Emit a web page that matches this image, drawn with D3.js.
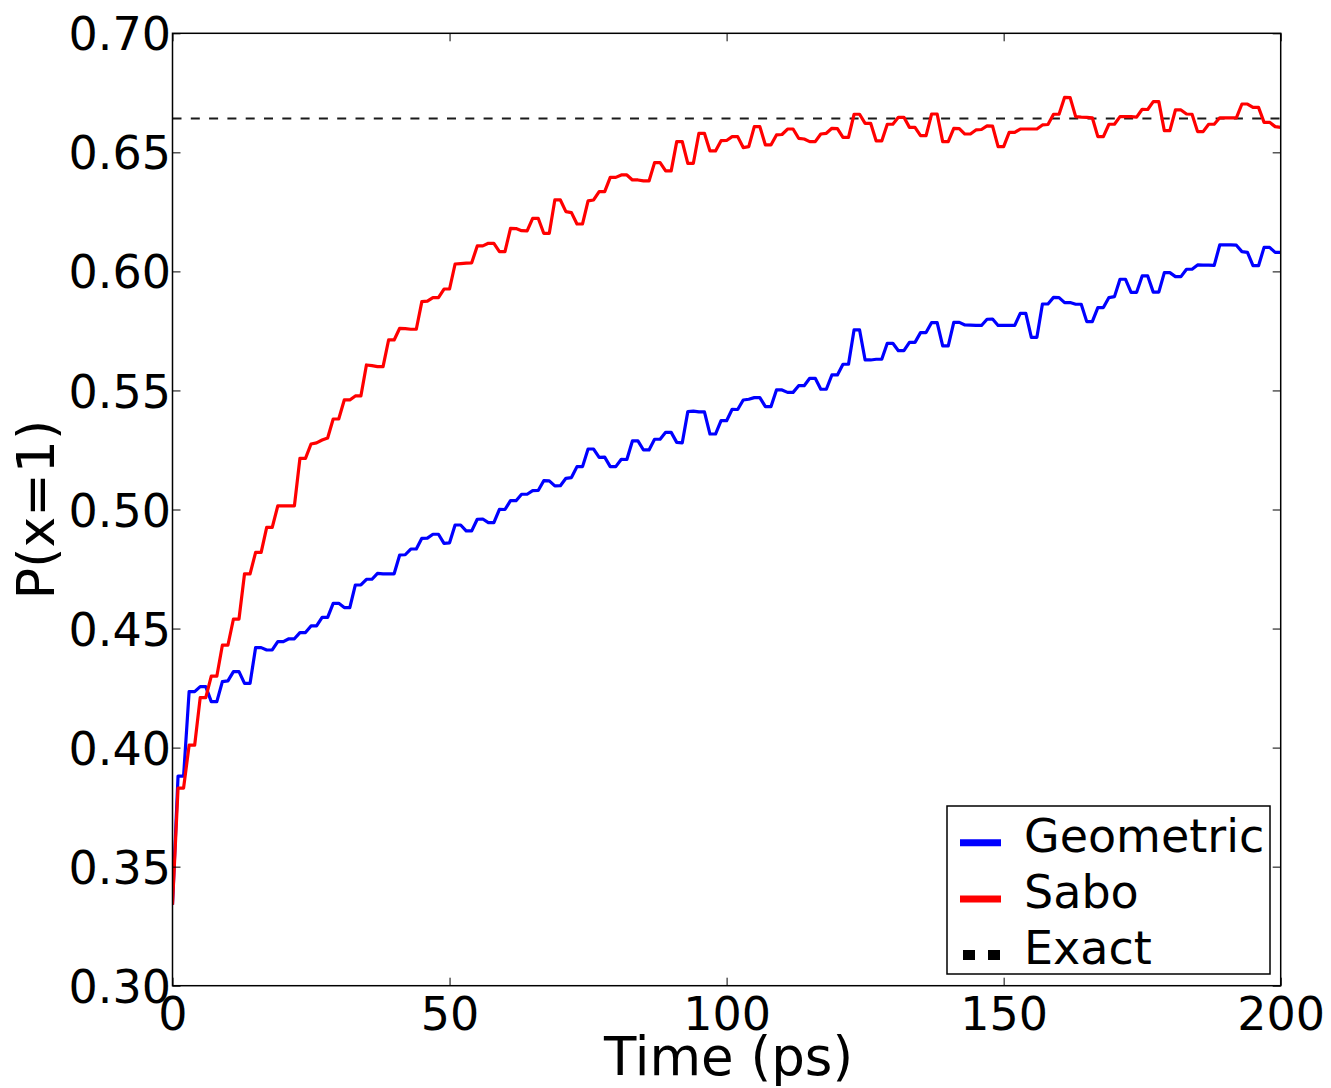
<!DOCTYPE html>
<html>
<head>
<meta charset="utf-8">
<script src="https://cdn.jsdelivr.net/npm/d3@7"></script>
<style>
  html, body { margin: 0; padding: 0; background: #fff; }
  svg { display: block; }
  text { font-family: "DejaVu Sans", sans-serif; fill: #000; }
</style>
</head>
<body>
<svg id="chart" width="1331" height="1088"></svg>
<script>
// ---- data (time in ps, one sample per ps) ----
const timeStart = 0;
const timeStep = 1;
const sabo = [
0.334,0.383,0.383,0.401,0.401,0.421,0.421,0.430,0.430,0.443,
0.443,0.454,0.454,0.473,0.473,0.482,0.482,0.4925,0.4925,0.5015,
0.5015,0.5015,0.5015,0.5215,0.5215,0.5275,0.528,0.5292,0.530,0.538,
0.538,0.546,0.546,0.5477,0.5477,0.5607,0.5604,0.560,0.560,0.5712,
0.5712,0.5761,0.576,0.5757,0.5757,0.5873,0.5875,0.589,0.589,0.5926,
0.5926,0.6031,0.6033,0.6035,0.6036,0.6107,0.6107,0.6118,0.6118,0.6083,
0.6083,0.6181,0.618,0.6171,0.617,0.6223,0.6223,0.616,0.616,0.630,
0.630,0.6251,0.6247,0.6199,0.620,0.6296,0.630,0.6335,0.6335,0.6395,
0.6395,0.6405,0.6405,0.6384,0.6384,0.638,0.638,0.6457,0.6457,0.6422,
0.6422,0.6545,0.6545,0.6454,0.6454,0.658,0.658,0.6506,0.6506,0.6549,
0.655,0.6566,0.6566,0.652,0.6524,0.6608,0.6608,0.6531,0.6531,0.6573,
0.6575,0.6598,0.6598,0.6559,0.6556,0.6545,0.6545,0.6577,0.658,0.6601,
0.660,0.6563,0.6563,0.666,0.666,0.6622,0.6622,0.6548,0.6548,0.6618,
0.6618,0.6647,0.6647,0.6605,0.6605,0.657,0.657,0.6661,0.6661,0.6545,
0.6545,0.6601,0.660,0.6577,0.6577,0.6594,0.6596,0.6611,0.661,0.6524,
0.6524,0.6584,0.6584,0.6598,0.6598,0.6598,0.6598,0.6615,0.6617,0.666,
0.666,0.6731,0.673,0.665,0.6648,0.6647,0.6645,0.6566,0.6566,0.6618,
0.6618,0.665,0.665,0.665,0.6648,0.6681,0.668,0.6713,0.6713,0.6591,
0.6591,0.6678,0.6678,0.6661,0.666,0.6587,0.6587,0.6618,0.6618,0.6645,
0.6645,0.6645,0.6645,0.6703,0.6703,0.6689,0.6689,0.6626,0.6626,0.6608,
0.6605
];
const geometric = [
0.334,0.388,0.388,0.4235,0.4235,0.4256,0.4256,0.4193,0.4193,0.4277,
0.428,0.4319,0.4319,0.427,0.427,0.442,0.442,0.441,0.441,0.4445,
0.4445,0.4457,0.4457,0.4483,0.4483,0.4511,0.4511,0.4547,0.4547,0.4606,
0.4606,0.4588,0.4588,0.4683,0.4683,0.4707,0.4707,0.4732,0.473,0.473,
0.473,0.4809,0.481,0.4834,0.4834,0.4879,0.488,0.4896,0.4896,0.4858,
0.486,0.4935,0.4935,0.491,0.491,0.4959,0.496,0.4945,0.4945,0.5001,
0.500,0.5037,0.5037,0.5064,0.5064,0.5079,0.508,0.5121,0.512,0.5099,
0.510,0.5131,0.5134,0.518,0.518,0.5254,0.5254,0.5219,0.522,0.518,
0.518,0.5211,0.521,0.5288,0.5288,0.525,0.525,0.5295,0.5295,0.5324,
0.5324,0.5282,0.528,0.5411,0.5413,0.541,0.541,0.5317,0.5317,0.5373,
0.5373,0.5421,0.542,0.546,0.5463,0.547,0.547,0.5432,0.5432,0.5502,
0.5502,0.5492,0.5492,0.552,0.552,0.5551,0.5551,0.5505,0.5505,0.5565,
0.5565,0.561,0.561,0.5754,0.5754,0.5628,0.5628,0.5631,0.5631,0.5698,
0.5698,0.5667,0.5667,0.5702,0.5702,0.5743,0.5743,0.5785,0.5785,0.5687,
0.5687,0.5786,0.5786,0.5775,0.5774,0.5773,0.5773,0.5799,0.58,0.5773,
0.5773,0.5773,0.5773,0.5824,0.5824,0.5723,0.5723,0.5863,0.5863,0.5891,
0.589,0.5869,0.5869,0.5862,0.5862,0.5789,0.5789,0.5848,0.5848,0.589,
0.5894,0.5967,0.5967,0.5912,0.5912,0.5981,0.5981,0.5913,0.5913,0.5995,
0.5995,0.5978,0.5978,0.6009,0.6009,0.6027,0.6026,0.6026,0.6025,0.6111,
0.6111,0.6111,0.611,0.6083,0.608,0.6024,0.6024,0.6101,0.6101,0.608,
0.608
];
const exactValue = 0.6642;
const xTicks = [0, 50, 100, 150, 200];
const yTicks = [0.30, 0.35, 0.40, 0.45, 0.50, 0.55, 0.60, 0.65, 0.70];
const seriesNames = ["Geometric", "Sabo", "Exact"];
const seriesColors = ["#0000ff", "#ff0000", "#000000"];

// ---- layout ----
const margin = { left: 172.5, top: 33.3, right: 1331 - 1280.7, bottom: 1088 - 985.7 };
const W = 1331 - margin.left - margin.right;
const H = 1088 - margin.top - margin.bottom;

const svg = d3.select("#chart");
const g = svg.append("g").attr("transform", `translate(${margin.left},${margin.top})`);

const x = d3.scaleLinear().domain([0, 200]).range([0, W]);
const y = d3.scaleLinear().domain([0.30, 0.70]).range([H, 0]);

const toPts = arr => arr.map((v, i) => ({ t: timeStart + i * timeStep, v }));
const line = d3.line().x(d => x(d.t)).y(d => y(d.v));

const clipId = "plotclip";
g.append("clipPath").attr("id", clipId).append("rect").attr("width", W).attr("height", H);

const plot = g.append("g").attr("clip-path", `url(#${clipId})`);

// Exact dashed line
plot.append("line")
  .attr("x1", x(0)).attr("x2", x(200))
  .attr("y1", y(exactValue)).attr("y2", y(exactValue))
  .attr("stroke", "#1a1a1a").attr("stroke-width", 2)
  .attr("stroke-dasharray", "9,9.3");

plot.append("path").datum(toPts(geometric))
  .attr("d", line).attr("fill", "none")
  .attr("stroke", seriesColors[0]).attr("stroke-width", 3.2)
  .attr("stroke-linejoin", "round");

plot.append("path").datum(toPts(sabo))
  .attr("d", line).attr("fill", "none")
  .attr("stroke", seriesColors[1]).attr("stroke-width", 3.2)
  .attr("stroke-linejoin", "round");

// ---- axes ----
const fs = 46;
const yAxis = d3.axisLeft(y).tickValues(yTicks).tickFormat(d3.format(".2f"))
  .tickSizeInner(-8).tickSizeOuter(0).tickPadding(1.5);
const yAx = g.append("g").call(yAxis);
yAx.select(".domain").remove();
yAx.selectAll("text").style("font-size", fs + "px").attr("dy", "0.36em");
yAx.selectAll("line").attr("stroke", "#000").attr("stroke-width", 1);

const yAxisR = d3.axisRight(y).tickValues(yTicks).tickFormat("")
  .tickSizeInner(-8).tickSizeOuter(0);
const yAxR = g.append("g").attr("transform", `translate(${W},0)`).call(yAxisR);
yAxR.select(".domain").remove();
yAxR.selectAll("line").attr("stroke", "#000").attr("stroke-width", 1);

const xAxis = d3.axisBottom(x).tickValues(xTicks).tickFormat(d3.format("d"))
  .tickSizeInner(-8).tickSizeOuter(0).tickPadding(11.5);
const xAx = g.append("g").attr("transform", `translate(0,${H})`).call(xAxis);
xAx.select(".domain").remove();
xAx.selectAll("text").style("font-size", fs + "px");
xAx.selectAll("line").attr("stroke", "#000").attr("stroke-width", 1);

const xAxisT = d3.axisTop(x).tickValues(xTicks).tickFormat("")
  .tickSizeInner(-8).tickSizeOuter(0);
const xAxT = g.append("g").call(xAxisT);
xAxT.select(".domain").remove();
xAxT.selectAll("line").attr("stroke", "#000").attr("stroke-width", 1);

// frame
g.append("rect").attr("width", W).attr("height", H)
  .attr("fill", "none").attr("stroke", "#000").attr("stroke-width", 1.5);

// axis titles
svg.append("text")
  .attr("x", margin.left + W / 2 + 2).attr("y", 1075)
  .attr("text-anchor", "middle").style("font-size", "53px")
  .text("Time (ps)");

svg.append("text")
  .attr("transform", `translate(53.5,${margin.top + H / 2}) rotate(-90)`)
  .attr("text-anchor", "middle").style("font-size", "52px")
  .text("P(x=1)");

// ---- legend ----
const leg = svg.append("g").attr("transform", "translate(947,806)");
leg.append("rect").attr("width", 323).attr("height", 168)
  .attr("fill", "#fff").attr("stroke", "#000").attr("stroke-width", 1.5);
const rowY = [36.7, 93, 149];
seriesNames.forEach((name, i) => {
  const ln = leg.append("line")
    .attr("x1", 13).attr("x2", 54)
    .attr("y1", rowY[i]).attr("y2", rowY[i])
    .attr("stroke", seriesColors[i]);
  if (i < 2) {
    ln.attr("stroke-width", 7);
  } else {
    ln.attr("stroke-width", 10).attr("stroke-dasharray", "12,13")
      .attr("x1", 16).attr("x2", 54);
  }
  leg.append("text")
    .attr("x", 77).attr("y", rowY[i] + 9)
    .style("font-size", fs + "px")
    .text(name);
});
</script>
</body>
</html>
